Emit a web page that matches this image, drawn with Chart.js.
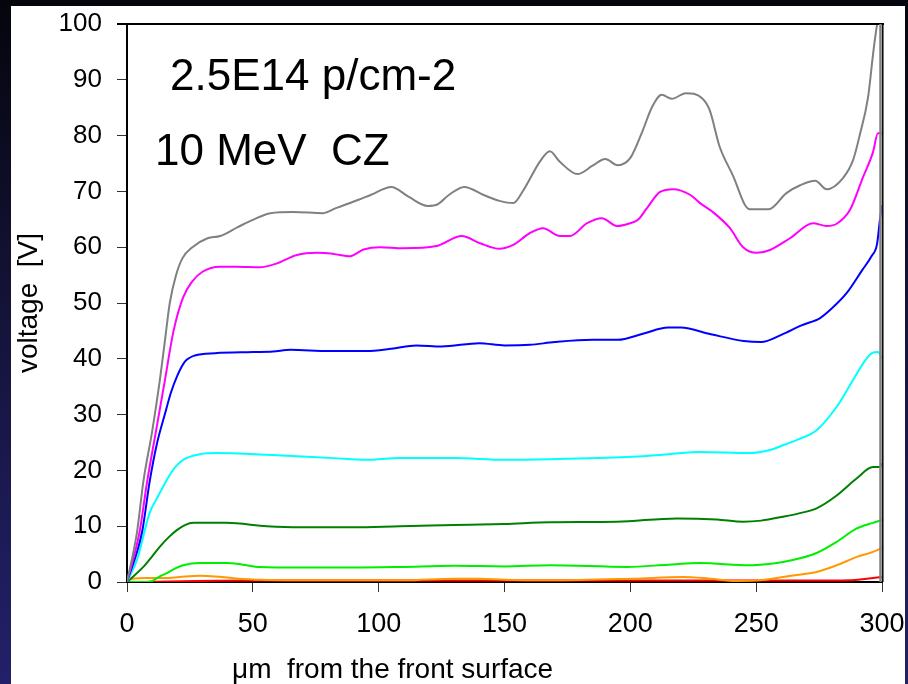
<!DOCTYPE html>
<html>
<head>
<meta charset="utf-8">
<script src="https://cdn.jsdelivr.net/npm/chart.js@4.4.1/dist/chart.umd.min.js"></script>
<style>
  html, body { margin: 0; padding: 0; }
  body {
    width: 908px; height: 684px; overflow: hidden; position: relative;
    background: linear-gradient(to bottom, #05050d 0%, #141338 45%, #23206a 100%);
    font-family: "Liberation Sans", Arial, sans-serif;
  }
  #panel { position: absolute; left: 11px; top: 6px; width: 894px; height: 678px; background: #fff; }
  #chart { position: absolute; left: 0; top: 0; }
  .note { position: absolute; white-space: pre; color: #000; line-height: 1; }
</style>
</head>
<body>
<div id="panel"></div>
<canvas id="chart" width="908" height="684"></canvas>
<div class="note" style="left:170px; top:53px; font-size:44px;">2.5E14 p/cm-2</div>
<div class="note" style="left:155px; top:128px; font-size:44px;">10 MeV  CZ</div>
<div class="note" style="left:232px; top:655px; font-size:28px;">μm  from the front surface</div>
<script>
// depth in um (x) and voltage in V (y), one pair of arrays per curve
const grayX = [0, 4, 6.5, 10, 13, 15, 17, 19.5, 22, 26, 32, 37, 44, 50, 57, 66, 78, 83, 92, 97, 105, 112, 119.5, 123.5, 128, 134, 141.5, 148, 153.5, 157.5, 164, 168, 172, 179, 185, 190, 195, 200, 205, 208.5, 212.5, 216.5, 222, 228.5, 231.5, 235.5, 241, 245.5, 247.5, 255, 262, 267.5, 273.5, 278, 284.5, 288.5, 291, 294.5, 296.5, 298, 300];
const grayY = [0, 9, 18, 27, 36, 43, 50, 55, 58, 60, 61.6, 62, 63.6, 64.9, 66.1, 66.3, 66.1, 67, 68.5, 69.4, 70.8, 69, 67.4, 67.7, 69.4, 70.8, 69.4, 68.3, 67.9, 70.2, 75.3, 77.2, 75.3, 73.1, 74.6, 75.8, 74.7, 76, 81, 85, 87.3, 86.6, 87.6, 86.7, 84.6, 78, 72.6, 67.6, 66.8, 66.8, 69.7, 71.1, 71.9, 70.4, 72.4, 75.6, 79.8, 87, 94.8, 99.8, 104];

const magentaX = [0, 5, 8, 11.5, 15, 18.5, 22.3, 25.8, 30, 37, 43.6, 52.8, 59.6, 67.5, 75.5, 82, 88.6, 94, 100.5, 109.7, 123, 133, 140.3, 148, 153.4, 160, 165.3, 172, 176, 182.8, 188.7, 194.7, 199.9, 203, 206.6, 211.8, 217, 223.7, 227.7, 232.8, 239.6, 244.8, 250.3, 255.5, 263.4, 272.6, 278, 282, 287.3, 292.5, 296.4, 298.4, 300];
const magentaY = [0, 9, 18, 27, 36, 45, 51, 53.8, 55.6, 56.5, 56.5, 56.4, 57.1, 58.6, 59, 58.8, 58.4, 59.6, 60, 59.8, 60.2, 62, 60.7, 59.7, 60.4, 62.5, 63.4, 62, 62, 64.3, 65.2, 63.8, 64.3, 64.9, 67, 69.9, 70.4, 69.4, 67.9, 66.3, 63.4, 60, 59, 59.5, 61.6, 64.3, 63.8, 64.2, 66.7, 72.6, 77, 80.4, 80.4];

const blueX = [0, 6, 9, 12, 15, 17.5, 20, 23, 27, 35, 50, 58, 65, 80, 95, 105, 115, 125, 140, 150, 160, 170, 185, 195, 205, 215, 220, 232, 245, 252, 260, 268, 275.4, 280, 286, 292, 296, 298, 299.2, 300];
const blueY = [0, 9, 18, 25, 30, 34, 37, 39.5, 40.6, 41, 41.2, 41.3, 41.6, 41.4, 41.4, 41.8, 42.4, 42.2, 42.8, 42.4, 42.5, 43, 43.4, 43.4, 44.5, 45.6, 45.6, 44.4, 43.2, 43, 44.3, 46, 47.3, 49, 51.8, 55.8, 58.5, 60.5, 65, 67.5];

const cyanX = [0, 4, 9, 12.5, 15.8, 19, 22.3, 29, 35.7, 55.6, 82, 95, 108.5, 130, 150, 168, 198.7, 215, 227.7, 247.5, 255, 260.7, 267, 274, 282, 288.5, 293, 296, 298.4, 300];
const cyanY = [0, 4, 12.4, 15.5, 18.3, 20.5, 21.9, 22.9, 23.1, 22.8, 22.2, 21.9, 22.2, 22.2, 21.9, 22, 22.4, 22.9, 23.3, 23.1, 23.6, 24.5, 25.6, 27.2, 31.4, 36.2, 39.5, 41, 41.2, 40.1];

const darkGreenX = [0, 6.5, 10, 13, 16.5, 19.8, 23, 26.4, 39.6, 55.6, 68.8, 90, 108.5, 130, 150, 168, 194.7, 218.5, 234.4, 244.8, 252, 260.7, 267, 274, 282, 290, 296.4, 299.2, 300];
const darkGreenY = [0, 2.7, 4.6, 6.3, 8, 9.3, 10.2, 10.6, 10.6, 10, 9.8, 9.8, 10, 10.2, 10.4, 10.7, 10.8, 11.4, 11.2, 10.8, 11, 11.7, 12.3, 13.2, 15.5, 18.6, 20.6, 20.6, 21.3];

const greenX = [0, 8, 10.5, 13, 15.8, 19, 22.3, 29, 39.6, 46, 52.8, 68.8, 90, 108.5, 130, 150, 168, 198.7, 215, 227.7, 247.5, 254, 260.7, 267, 274, 282, 290, 296.4, 300];
const greenY = [0, 0, 0.3, 1, 1.6, 2.4, 3, 3.4, 3.4, 3.1, 2.7, 2.6, 2.6, 2.7, 2.9, 2.8, 3, 2.7, 3.1, 3.4, 3, 3.2, 3.6, 4.2, 5.2, 7.2, 9.6, 10.6, 11.1];

const orangeX = [0, 2, 8, 15, 21, 29, 35, 42, 53, 80, 110, 130, 140, 150, 168, 201, 221, 231.6, 242, 251.5, 260.7, 267, 274, 282, 290, 296.4, 300];
const orangeY = [0, 0.6, 0.7, 0.7, 0.9, 1.1, 1, 0.7, 0.4, 0.3, 0.3, 0.6, 0.6, 0.4, 0.3, 0.6, 0.9, 0.6, 0.2, 0.3, 0.9, 1.3, 1.8, 3, 4.5, 5.4, 6.1];

const redX = [0, 50, 100, 150, 200, 250, 280, 287, 294, 300];
const redY = [0, 0.25, 0.25, 0.25, 0.25, 0.25, 0.25, 0.3, 0.6, 0.9];

const xTicks = [0, 50, 100, 150, 200, 250, 300];
const yTicks = [0, 10, 20, 30, 40, 50, 60, 70, 80, 90, 100];

const curves = [
  [grayX, grayY, "#808080"],
  [magentaX, magentaY, "#ff00ff"],
  [blueX, blueY, "#0000ff"],
  [cyanX, cyanY, "#00ffff"],
  [darkGreenX, darkGreenY, "#008000"],
  [greenX, greenY, "#00ee00"],
  [orangeX, orangeY, "#ff9900"],
  [redX, redY, "#ff0000"],
];

const FONT = '"Liberation Sans", Arial, sans-serif';

// frame lines on the top and the right side of the plot
const framePlugin = {
  id: "frame",
  afterDatasetsDraw(chart) {
    const { ctx, chartArea } = chart;
    const xr = chart.scales.x.getPixelForValue(300);
    ctx.save();
    ctx.strokeStyle = "#000";
    ctx.lineWidth = 2;
    ctx.beginPath();
    ctx.moveTo(chartArea.left - 10, chartArea.top);
    ctx.lineTo(xr + 2, chartArea.top);
    ctx.stroke();
    ctx.strokeStyle = "#808080";
    ctx.lineWidth = 2.5;
    ctx.beginPath();
    ctx.moveTo(xr - 1.5, chartArea.top);
    ctx.lineTo(xr - 1.5, chartArea.bottom);
    ctx.stroke();
    ctx.strokeStyle = "#000";
    ctx.lineWidth = 1.5;
    ctx.beginPath();
    ctx.moveTo(xr + 0.8, chartArea.top);
    ctx.lineTo(xr + 0.8, chartArea.bottom);
    ctx.stroke();
    ctx.restore();
  }
};

// fixed axis boxes so the plot area lands where the original has it
function fixX(s) {
  s.height = 102;
  s.paddingLeft = 0; s.paddingRight = 0; s.paddingTop = 0; s.paddingBottom = 0;
}
function fixY(s) {
  s.width = 127;
  s.paddingLeft = 0; s.paddingRight = 0; s.paddingTop = 0; s.paddingBottom = 0;
}

new Chart(document.getElementById("chart"), {
  type: "line",
  data: {
    datasets: curves.map(([xs, ys, color]) => ({
      data: xs.map((x, i) => ({ x: x, y: ys[i] })),
      borderColor: color,
      borderWidth: 2,
      pointRadius: 0,
      tension: 0.4,
      cubicInterpolationMode: "monotone",
      fill: false,
    })),
  },
  options: {
    responsive: false,
    animation: false,
    layout: { padding: { top: 24, right: 26, left: 0, bottom: 0 } },
    plugins: { legend: { display: false }, tooltip: { enabled: false } },
    scales: {
      x: {
        type: "linear",
        min: 0,
        max: 300,
        afterFit: fixX,
        afterBuildTicks: (s) => { s.ticks = xTicks.map((v) => ({ value: v })); },
        ticks: { color: "#000", font: { family: FONT, size: 27 }, padding: 16, maxRotation: 0 },
        grid: { drawOnChartArea: false, drawTicks: true, tickLength: 10, color: "#333" },
        border: { color: "#000", width: 2 },
      },
      y: {
        min: 0,
        max: 100,
        afterFit: fixY,
        afterBuildTicks: (s) => { s.ticks = yTicks.map((v) => ({ value: v })); },
        ticks: { color: "#000", font: { family: FONT, size: 26 }, padding: 15 },
        grid: { drawOnChartArea: false, drawTicks: true, tickLength: 10, color: "#333" },
        border: { color: "#000", width: 2 },
        title: {
          display: true,
          text: "voltage  [V]",
          color: "#000",
          font: { family: FONT, size: 28 },
          padding: { top: 12, bottom: 0 },
        },
      },
    },
  },
  plugins: [framePlugin],
});
</script>
</body>
</html>
